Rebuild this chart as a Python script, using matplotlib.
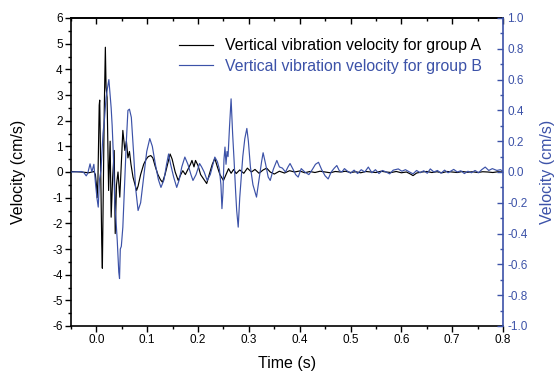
import matplotlib
matplotlib.use("Agg")
from matplotlib import pyplot as plt
from matplotlib.ticker import MultipleLocator
import numpy as np

plt.rcParams['font.family'] = ['Liberation Sans', 'DejaVu Sans']

BLUE = '#3c52a8'

# group A, left axis (cm/s)
t_a = [-0.05, -0.03, -0.015, -0.005, -0.002, 0.0, 0.0015, 0.003, 0.0055, 0.0065,
       0.0085, 0.0105, 0.0117, 0.013, 0.0155, 0.0176, 0.019, 0.021, 0.024, 0.027,
       0.029, 0.032, 0.035, 0.037, 0.0395, 0.0425, 0.046, 0.049, 0.052, 0.056,
       0.059, 0.062, 0.065, 0.068, 0.072, 0.076, 0.079, 0.082, 0.087, 0.093,
       0.098, 0.102, 0.107, 0.111, 0.116, 0.121, 0.126, 0.13, 0.135, 0.14,
       0.145, 0.149, 0.155, 0.161, 0.166, 0.17, 0.175, 0.18, 0.185, 0.188,
       0.192, 0.195, 0.2, 0.205, 0.212, 0.217, 0.222, 0.228, 0.233, 0.238,
       0.243, 0.25, 0.255, 0.26, 0.265, 0.27, 0.275, 0.282, 0.29, 0.297,
       0.305, 0.312, 0.32, 0.328, 0.335, 0.342, 0.35, 0.36, 0.37, 0.38,
       0.39, 0.4, 0.41, 0.42, 0.43, 0.44, 0.45, 0.46, 0.47, 0.48,
       0.49, 0.5, 0.51, 0.52, 0.53, 0.54, 0.55, 0.56, 0.57, 0.58,
       0.59, 0.6, 0.61, 0.618, 0.623, 0.63, 0.64, 0.65, 0.66, 0.67,
       0.68, 0.69, 0.7, 0.71, 0.72, 0.73, 0.74, 0.75, 0.76, 0.77,
       0.78, 0.79, 0.8]
v_a = [0.02, 0.0, -0.03, 0.02, -0.1, -0.5, -1.0, -0.3, 2.6, 2.8,
       0.0, -2.8, -3.75, -1.5, 2.5, 4.86, 3.3, 2.9, -0.72, 1.2,
       -1.76, -0.2, 0.84, -2.4, -0.5, 0.0, -0.98, 0.3, 1.62, 0.84,
       1.2, 0.55, 0.8, 0.3, -0.2, -0.5, -0.72, -0.55, -0.1, 0.3,
       0.5, 0.6, 0.64, 0.55, 0.2, -0.1, -0.3, -0.4, -0.1, 0.3,
       0.7, 0.5, 0.0, -0.33, -0.1, 0.05, -0.1, 0.1, 0.3, 0.45,
       0.2, 0.45, 0.25, -0.1, -0.3, -0.45, -0.1, 0.3, 0.53, 0.2,
       -0.1, -0.33, -0.1, 0.13, -0.05, 0.1, -0.06, 0.08, -0.05, 0.15,
       0.0, 0.1, -0.05, 0.08, 0.15, 0.0, -0.08, 0.03, -0.04, 0.05,
       0.0, 0.04, -0.03, 0.02, -0.02, 0.03, 0.0, -0.03, 0.02, 0.0,
       0.03, -0.02, 0.01, -0.03, 0.02, 0.0, -0.02, 0.03, 0.0, -0.02,
       0.02, -0.03, 0.0, -0.08, -0.14, -0.04, 0.0, 0.02, -0.02, 0.01,
       -0.03, 0.02, 0.0, -0.02, 0.02, -0.01, 0.01, -0.02, 0.01, 0.0,
       -0.02, 0.01, 0.0]

# group B, right axis (cm/s)
t_b = [-0.05, -0.03, -0.025, -0.02, -0.017, -0.0125, -0.009, -0.005, -0.002, 0.001,
       0.0036, 0.006, 0.009, 0.013, 0.016, 0.019, 0.022, 0.0245, 0.027, 0.029,
       0.031, 0.033, 0.036, 0.041, 0.044, 0.0455, 0.047, 0.049, 0.052, 0.0557,
       0.059, 0.062, 0.065, 0.0687, 0.073, 0.077, 0.082, 0.087, 0.093, 0.099,
       0.105, 0.11, 0.116, 0.122, 0.127, 0.133, 0.138, 0.142, 0.146, 0.152,
       0.158, 0.163, 0.168, 0.174, 0.18, 0.186, 0.19, 0.196, 0.203, 0.207,
       0.212, 0.218, 0.224, 0.228, 0.233, 0.238, 0.242, 0.245, 0.247, 0.249,
       0.251, 0.253, 0.255, 0.257, 0.259, 0.262, 0.265, 0.268, 0.271, 0.274,
       0.276, 0.279, 0.282, 0.285, 0.288, 0.292, 0.296, 0.299, 0.303, 0.308,
       0.315, 0.32, 0.325, 0.328, 0.333, 0.338, 0.342, 0.348, 0.355, 0.36,
       0.366, 0.372, 0.377, 0.381, 0.387, 0.392, 0.397, 0.403, 0.41, 0.418,
       0.425, 0.431, 0.437, 0.443, 0.45, 0.456, 0.462, 0.468, 0.473, 0.478,
       0.483, 0.488, 0.493, 0.5, 0.507, 0.514, 0.521, 0.528, 0.535, 0.542,
       0.549, 0.556, 0.563, 0.57, 0.577, 0.584, 0.594, 0.601, 0.608, 0.616,
       0.623, 0.63, 0.637, 0.644, 0.651, 0.657, 0.664, 0.671, 0.678, 0.685,
       0.692, 0.703, 0.71, 0.717, 0.724, 0.731, 0.738, 0.745, 0.752, 0.758,
       0.765, 0.772, 0.779, 0.788, 0.795, 0.8]
v_b = [0.0, 0.003, -0.003, -0.025, -0.008, 0.053, 0.0, 0.05, -0.067, -0.167,
       -0.228, -0.05, 0.01, 0.25, 0.35, 0.483, 0.55, 0.6, 0.5, 0.417,
       0.3, 0.14, -0.183, -0.445, -0.65, -0.692, -0.5, -0.483, -0.358, -0.055,
       0.205, 0.4, 0.408, 0.355, 0.133, -0.1, -0.25, -0.2, -0.033, 0.133,
       0.217, 0.167, 0.05, -0.05, -0.1, -0.05, 0.05, 0.117, 0.05, -0.033,
       -0.1, -0.05, 0.033, 0.097, 0.05, -0.017, -0.055, -0.017, 0.055, 0.033,
       0.0, -0.055, -0.017, 0.033, 0.097, 0.067, 0.017, -0.083, -0.238, -0.133,
       0.083, 0.162, 0.05, 0.133, 0.1, 0.3, 0.475, 0.25, 0.067, -0.133,
       -0.25, -0.358, -0.167, -0.033, 0.1, 0.217, 0.283, 0.2, 0.033, -0.083,
       -0.163, -0.05, 0.067, 0.125, 0.05, -0.033, -0.055, 0.017, 0.075, 0.033,
       0.025, 0.0, 0.033, 0.055, 0.017, -0.017, -0.033, 0.022, 0.0, -0.017,
       0.017, 0.05, 0.063, 0.017, -0.025, -0.045, 0.0, 0.025, 0.042, 0.008,
       0.0, 0.022, 0.008, -0.008, 0.012, -0.01, 0.015, 0.0, 0.032, -0.005,
       0.015, -0.01, 0.01, 0.0, -0.012, 0.012, 0.02, 0.005, 0.015, 0.0,
       -0.012, 0.01, -0.005, 0.008, -0.008, 0.02, 0.0, 0.01, -0.008, 0.012,
       -0.005, 0.017, 0.0, 0.008, -0.01, 0.005, -0.005, 0.01, -0.005, 0.015,
       0.032, 0.01, 0.022, 0.01, 0.015, 0.005]

x_ticks = [0.0, 0.1, 0.2, 0.3, 0.4, 0.5, 0.6, 0.7, 0.8]
left_ticks = [-6, -5, -4, -3, -2, -1, 0, 1, 2, 3, 4, 5, 6]
right_ticks = [-1.0, -0.8, -0.6, -0.4, -0.2, 0.0, 0.2, 0.4, 0.6, 0.8, 1.0]

label_a = 'Vertical vibration velocity for group A'
label_b = 'Vertical vibration velocity for group B'

fig = plt.figure(figsize=(5.58, 3.71), dpi=100)
ax = fig.add_axes([71 / 558, 1 - 326 / 371, 432 / 558, 308 / 371])
ax2 = ax.twinx()

la, = ax.plot(t_a, v_a, color='black', lw=0.85)
lb, = ax2.plot(t_b, v_b, color=BLUE, lw=0.85)

ax.set_xlim(-0.05, 0.8)
ax.set_ylim(-6, 6)
ax2.set_ylim(-1.0, 1.0)

ax.set_xticks(x_ticks)
ax.set_xticklabels(['%.1f' % v for v in x_ticks])
ax.xaxis.set_minor_locator(MultipleLocator(0.05))
ax.set_yticks(left_ticks)
ax.set_yticklabels([str(v) for v in left_ticks])
ax.yaxis.set_minor_locator(MultipleLocator(0.5))
ax2.set_yticks(right_ticks)
ax2.set_yticklabels(['%.1f' % v for v in right_ticks])
ax2.yaxis.set_minor_locator(MultipleLocator(0.1))

ax.tick_params(axis='both', which='major', direction='out', length=4, width=1,
               labelsize=8.5, pad=2)
ax.tick_params(axis='both', which='minor', direction='out', length=2.5, width=1)
ax2.tick_params(axis='y', which='major', direction='in', length=4, width=1,
                colors=BLUE, labelsize=8.5, pad=3)
ax2.tick_params(axis='y', which='minor', direction='in', length=2.5, width=1,
                colors=BLUE)

# top ticks point inward
top = ax.secondary_xaxis('top')
top.xaxis.set_major_locator(MultipleLocator(0.1))
top.xaxis.set_minor_locator(MultipleLocator(0.05))
top.tick_params(which='major', direction='in', length=4, width=1, labeltop=False)
top.tick_params(which='minor', direction='in', length=2.5, width=1)
top.spines['top'].set_linewidth(1.2)

for s in ['left', 'bottom', 'top']:
    ax.spines[s].set_linewidth(1.2)
ax.spines['right'].set_visible(False)
for s in ['left', 'bottom', 'top']:
    ax2.spines[s].set_visible(False)
ax2.spines['right'].set_color(BLUE)
ax2.spines['right'].set_linewidth(1.2)

ax.set_xlabel('Time (s)', fontsize=11.5)
ax.set_ylabel('Velocity (cm/s)', fontsize=11.5)
ax2.set_ylabel('Velocity (cm/s)', fontsize=11.5, color=BLUE)
ax.xaxis.set_label_coords(0.5, -0.096)
ax.yaxis.set_label_coords(-0.104, 0.5)
ax2.yaxis.set_label_coords(1.086, 0.5)

leg = ax2.legend([la, lb], [label_a, label_b], loc='upper right',
                 bbox_to_anchor=(0.985, 0.98), frameon=False, fontsize=11.4,
                 handlelength=2.1, handletextpad=0.8, labelspacing=0.35,
                 borderpad=0.4)
leg.get_texts()[0].set_color('black')
leg.get_texts()[1].set_color(BLUE)

fig.savefig('out.png', dpi=100)
